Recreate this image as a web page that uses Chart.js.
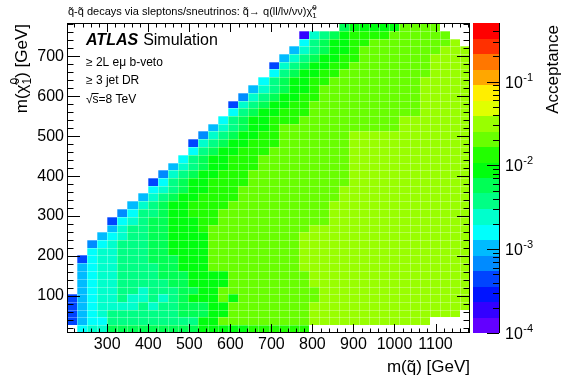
<!DOCTYPE html>
<html>
<head>
<meta charset="utf-8">
<script src="https://cdn.jsdelivr.net/npm/chart.js@4/dist/chart.umd.min.js"></script>
<style>
  html, body { margin: 0; padding: 0; background: #fff; }
  canvas { display: block; }
</style>
</head>
<body>
<canvas id="chart" width="567" height="384"></canvas>
<script>
// squark mass bin centres (GeV), left to right
const mSquark = [214.3, 238.8, 263.4, 287.9, 312.5, 337.0, 361.6, 386.1, 410.7, 435.2,
  459.8, 484.3, 508.9, 533.4, 558.0, 582.5, 607.1, 631.6, 656.2, 680.7,
  705.3, 729.8, 754.4, 778.9, 803.5, 828.0, 852.6, 877.1, 901.7, 926.2,
  950.8, 975.3, 999.9, 1024.4, 1049.0, 1073.5, 1098.1, 1122.6, 1147.2, 1171.7];

// neutralino mass bin centres (GeV), top row first
const mLSP = [773.3, 753.9, 734.5, 715.1, 695.8, 676.4, 657.0, 637.6, 618.2, 598.8,
  579.4, 560.0, 540.7, 521.3, 501.9, 482.5, 463.1, 443.7, 424.3, 404.9,
  385.6, 366.2, 346.8, 327.4, 308.0, 288.6, 269.2, 249.8, 230.5, 211.1,
  191.7, 172.3, 152.9, 133.5, 114.1, 94.7, 75.4, 56.0, 36.6, 17.2];

// acceptance per row, read off the colour levels: [first squark bin, level codes]
// level code 0..9,A..J = colour band 0..19 of the 1e-4 .. 0.5 log scale
const acceptanceRows = [
  [27, "9AAAAA" + "CCCC"],
  [23, "1789ABBBB" + "CCCCCC"],
  [23, "689AABB" + "CCCCCCCC" + "D"],
  [22, "5789AAB" + "CCCCCCCC" + "DDD"],
  [21, "5789AABB" + "CCCCCCC" + "DDDD"],
  [20, "3789AABB" + "CCCCCCCC" + "DDDD"],
  [20, "689AABB" + "CCCCCCCCC" + "DDDD"],
  [19, "689AABB" + "CCCCCCCCC" + "DDDDD"],
  [18, "5789AAB" + "CCCCCCCCCC" + "DDDDD"],
  [17, "4789AABB" + "CCCCCCCCCC" + "DDDDD"],
  [16, "3789AABB" + "CCCCCCCCCCC" + "DDDDD"],
  [16, "689AABBB" + "CCCCCCCCCCC" + "DDDDD"],
  [15, "689AABBB" + "CCCCCCCCCC" + "DDDDDDD"],
  [14, "5789AAB" + "CCCCCCCCCCCC" + "DDDDDDD"],
  [13, "4789AABB" + "CCCCCCC" + "DDDDDDDDDDDD"],
  [12, "3789AABBB" + "CCCCCCC" + "DDDDDDDDDDDD"],
  [12, "689AABBB" + "CCCCCCCC" + "DDDDDDDDDDDD"],
  [11, "689AABBB" + "CCCCCCCCC" + "DDDDDDDDDDDD"],
  [10, "5789AABBB" + "CCCCCCCCC" + "DDDDDDDDDDDD"],
  [9, "4789AABBB" + "CCCCCCCCCC" + "DDDDDDDDDDDD"],
  [8, "3689AABBBB" + "CCCCCCCCCC" + "DDDDDDDDDDDD"],
  [8, "6789AABBB" + "CCCCCCCCCC" + "DDDDDDDDDDDDD"],
  [7, "5789AABBBB" + "CCCCCCCCCC" + "DDDDDDDDDDDDD"],
  [6, "5789AABBBB" + "CCCCCCCCCC" + "DDDDDDDDDDDDDD"],
  [5, "46889AABBB" + "CCCCCCCCCCC" + "DDDDDDDDDDDDDD"],
  [4, "367899AAABB" + "CCCCCCCCCCC" + "DDDDDDDDDDDDDD"],
  [4, "578899AAAB" + "CCCCCCCCCC" + "DDDDDDDDDDDDDDDD"],
  [3, "5678899AAAA" + "CCCCCCCCC" + "DDDDDDDDDDDDDDDDD"],
  [2, "46788899AAAA" + "CCCCCCCCC" + "DDDDDDDDDDDDDDDDD"],
  [2, "67788899AAAA" + "CCCCCCCCC" + "DDDDDDDDDDDDDDDDD"],
  [1, "3677888999AAA" + "CCCCCCCCC" + "DDDDDDDDDDDDDDDDD"],
  [1, "5677888899AAA" + "CCCCCCCCC" + "DDDDDDDDDDDDDDDDD"],
  [1, "56778888999AAAA" + "CCCCCCCC" + "DDDDDDDDDDDDDDDD"],
  [1, "56778888899AAAA" + "CCCCCCCC" + "DDDDDDDDDDDDDDDD"],
  [1, "567788788899AA" + "CCCCCCCCCC" + "DDDDDDDDDDDDDDD"],
  [0, "356778778789AAACA" + "CCCCCCCC" + "DDDDDDDDDDDDDDD"],
  [0, "35677778788999AA" + "CCCCCCCC" + "DDDDDDDDDDDDDDDD"],
  [0, "35678888888999AA" + "CCCCCCCC" + "DDDDDDDDDDDDDDD"],
  [0, "3566888888888AA" + "CCCCCCCCC" + "DDDDDDDDDDDD"],
  [1, "677999999999AAAAABBBBBB"]
];

const xTicks = [300, 400, 500, 600, 700, 800, 900, 1000, 1100];
const yTicks = [100, 200, 300, 400, 500, 600, 700];
const zTickExp = [-4, -3, -2, -1];

const xRange = [202, 1184];
const yRange = [7.5, 783];
const zRange = [1e-4, 0.5];

const FONT = '"Liberation Sans", Arial, sans-serif';
const nBands = 20;
const levelCodes = '0123456789ABCDEFGHIJ';
const lzMin = Math.log10(zRange[0]);
const bandStep = (Math.log10(zRange[1]) - lzMin) / nBands;

// ROOT "pretty" palette, 50 colours, 20 contours
function bandColour(k) {
  const idx = Math.floor((k + 0.99) * 50 / nBands);
  return 'hsl(' + (280 - (idx + 1) * 5.6) + ',100%,50%)';
}
function bandOf(v) {
  const k = Math.floor((Math.log10(v) - lzMin) / bandStep);
  return Math.max(0, Math.min(nBands - 1, k));
}

// bin edges half way between neighbouring centres
function edge(centres, i, range) {
  if (i <= 0) return range[0];
  if (i >= centres.length) return range[1];
  return (centres[i - 1] + centres[i]) / 2;
}

// build the cells
const cells = [];
acceptanceRows.forEach(([start, levels], r) => {
  for (let i = 0; i < levels.length; i++) {
    const k = levelCodes.indexOf(levels[i]);
    cells.push({ x: mSquark[start + i], y: mLSP[r], v: Math.pow(10, lzMin + (k + 0.5) * bandStep), col: start + i, row: r });
  }
});
const mLSPup = mLSP.slice().reverse();

// text with sub/superscripts
function richText(ctx, parts, x, y, align) {
  let total = 0;
  for (const p of parts) {
    ctx.font = p.s + 'px ' + FONT;
    p.w = ctx.measureText(p.t).width;
    if (!p.stack) total += p.w;
  }
  let cx = align === 'right' ? x - total : x;
  for (const p of parts) {
    ctx.font = p.s + 'px ' + FONT;
    ctx.fillText(p.t, cx, y + (p.dy || 0));
    if (!p.stack) cx += p.w;
  }
}

const heatmap = {
  id: 'heatmap',
  beforeDatasetsDraw(chart) {
    const { ctx, chartArea: a, scales: { x, y } } = chart;
    const n = mLSP.length;
    ctx.save();
    ctx.beginPath();
    ctx.rect(a.left, a.top, a.right - a.left, a.bottom - a.top);
    ctx.clip();
    for (const c of chart.data.datasets[0].data) {
      const j = n - 1 - c.row; // index counted from the bottom
      const x0 = Math.round(x.getPixelForValue(edge(mSquark, c.col, xRange)));
      const x1 = Math.round(x.getPixelForValue(edge(mSquark, c.col + 1, xRange)));
      const y0 = Math.round(y.getPixelForValue(edge(mLSPup, j + 1, yRange)));
      const y1 = Math.round(y.getPixelForValue(edge(mLSPup, j, yRange)));
      ctx.fillStyle = bandColour(bandOf(c.v));
      ctx.fillRect(x0, y0, x1 - x0, y1 - y0);
      ctx.fillStyle = 'rgba(255,255,255,0.3)';
      ctx.fillRect(x0, y0, 1, y1 - y0);
      ctx.fillRect(x0, y0, x1 - x0, 1);
    }
    ctx.restore();
  },
  afterDraw(chart) {
    const { ctx, chartArea: a, scales: { x, y, z } } = chart;
    ctx.save();
    ctx.strokeStyle = '#000';
    ctx.lineWidth = 1;
    ctx.strokeRect(a.left + 0.5, a.top + 0.5, a.right - a.left - 1, a.bottom - a.top - 1);

    // inward ticks on all four sides
    ctx.beginPath();
    for (let v = Math.ceil(x.min / 20) * 20; v <= x.max; v += 20) {
      const p = Math.round(x.getPixelForValue(v)) + 0.5;
      const len = xTicks.includes(v) ? 9 : 4.5;
      ctx.moveTo(p, a.bottom); ctx.lineTo(p, a.bottom - len);
      ctx.moveTo(p, a.top); ctx.lineTo(p, a.top + len);
    }
    for (let v = Math.ceil(y.min / 20) * 20; v <= y.max; v += 20) {
      const p = Math.round(y.getPixelForValue(v)) + 0.5;
      const len = yTicks.includes(v) ? 13 : 6.5;
      ctx.moveTo(a.left, p); ctx.lineTo(a.left + len, p);
      ctx.moveTo(a.right, p); ctx.lineTo(a.right - len, p);
    }
    ctx.stroke();

    // colour scale
    const cbL = 473, cbR = 499;
    for (let k = 0; k < nBands; k++) {
      const yt = Math.round(z.getPixelForValue(Math.pow(10, lzMin + (k + 1) * bandStep)));
      const yb = Math.round(z.getPixelForValue(Math.pow(10, lzMin + k * bandStep)));
      ctx.fillStyle = bandColour(k);
      ctx.fillRect(cbL, yt, cbR - cbL, yb - yt);
    }
    ctx.beginPath();
    ctx.moveTo(cbR + 0.5, a.top); ctx.lineTo(cbR + 0.5, a.bottom);
    for (const e of zTickExp) {
      for (let m = 1; m < 10; m++) {
        const v = m * Math.pow(10, e);
        if (v >= zRange[1]) break;
        const p = Math.round(z.getPixelForValue(v)) + 0.5;
        ctx.moveTo(cbR, p); ctx.lineTo(cbR - (m === 1 ? 12 : 6), p);
      }
    }
    ctx.stroke();

    ctx.fillStyle = '#000';
    ctx.textAlign = 'left';
    ctx.textBaseline = 'alphabetic';
    for (const e of zTickExp) {
      const p = z.getPixelForValue(Math.pow(10, e));
      ctx.font = '16px ' + FONT;
      ctx.fillText('10', 505, p + 6);
      const w = ctx.measureText('10').width;
      ctx.font = '11px ' + FONT;
      ctx.fillText(String(e), 505 + w + 0.5, p - 1);
    }

    // colour axis title
    ctx.save();
    ctx.translate(558, 25);
    ctx.rotate(-Math.PI / 2);
    ctx.textAlign = 'right';
    ctx.font = '17px ' + FONT;
    ctx.fillText('Acceptance', 0, 0);
    ctx.restore();

    // y axis title
    ctx.save();
    ctx.translate(27, 24);
    ctx.rotate(-Math.PI / 2);
    richText(ctx, [
      { t: 'm(', s: 17 },
      { t: '\u03C7\u0303', s: 17 },
      { t: '1', s: 12, dy: 4, stack: true },
      { t: '0', s: 12, dy: -8 },
      { t: ') [GeV]', s: 17 }
    ], 0, 0, 'right');
    ctx.restore();

    // x axis title
    ctx.textAlign = 'left';
    richText(ctx, [{ t: 'm(q\u0303) [GeV]', s: 17 }], 470, 372, 'right');

    // top caption
    richText(ctx, [
      { t: 'q\u0303-q\u0303 decays via sleptons/sneutrinos: q\u0303\u2192 q(ll/l\u03BD/\u03BD\u03BD)', s: 11 },
      { t: '\u03C7\u0303', s: 11 },
      { t: '1', s: 8, dy: 3, stack: true },
      { t: '0', s: 8, dy: -5 }
    ], 68, 15, 'left');

    // ATLAS label
    ctx.font = 'italic bold 16px ' + FONT;
    ctx.fillText('ATLAS', 86, 45);
    const wA = ctx.measureText('ATLAS').width;
    ctx.font = '16px ' + FONT;
    ctx.fillText('Simulation', 86 + wA + 5, 45);

    ctx.font = '12px ' + FONT;
    ctx.fillText('\u2265 2L e\u03BC b-veto', 86, 66);
    ctx.fillText('\u2265 3 jet DR', 86, 84);
    ctx.fillText('\u221A', 86, 103);
    const wr = ctx.measureText('\u221A').width;
    ctx.fillText('s=8 TeV', 86 + wr, 103);
    const ws = ctx.measureText('s').width;
    ctx.beginPath();
    ctx.moveTo(86 + wr - 1, 93.5); ctx.lineTo(86 + wr + ws, 93.5);
    ctx.stroke();
    ctx.restore();
  }
};

const tickFont = { family: 'Liberation Sans', size: 16 };

new Chart(document.getElementById('chart').getContext('2d'), {
  type: 'scatter',
  data: {
    datasets: [{ label: 'Acceptance', data: cells, pointRadius: 0, pointHoverRadius: 0 }]
  },
  options: {
    responsive: false,
    animation: false,
    events: [],
    layout: { padding: { top: 23, right: 97, left: 0, bottom: 0 } },
    plugins: { legend: { display: false }, tooltip: { enabled: false } },
    scales: {
      x: {
        type: 'linear', position: 'bottom', min: xRange[0], max: xRange[1],
        grid: { display: false, drawTicks: false }, border: { display: false },
        afterBuildTicks: s => { s.ticks = xTicks.map(v => ({ value: v })); },
        afterFit: s => { s.height = 51; },
        ticks: { font: tickFont, color: '#000', padding: 2, autoSkip: false, maxRotation: 0, callback: v => String(v) }
      },
      y: {
        type: 'linear', position: 'left', min: yRange[0], max: yRange[1],
        grid: { display: false, drawTicks: false }, border: { display: false },
        afterBuildTicks: s => { s.ticks = yTicks.map(v => ({ value: v })); },
        afterFit: s => { s.width = 67; },
        ticks: { font: tickFont, color: '#000', padding: 3, autoSkip: false, callback: v => String(v) }
      },
      z: { type: 'logarithmic', position: 'right', min: zRange[0], max: zRange[1], display: false }
    }
  },
  plugins: [heatmap]
});
</script>
</body>
</html>
